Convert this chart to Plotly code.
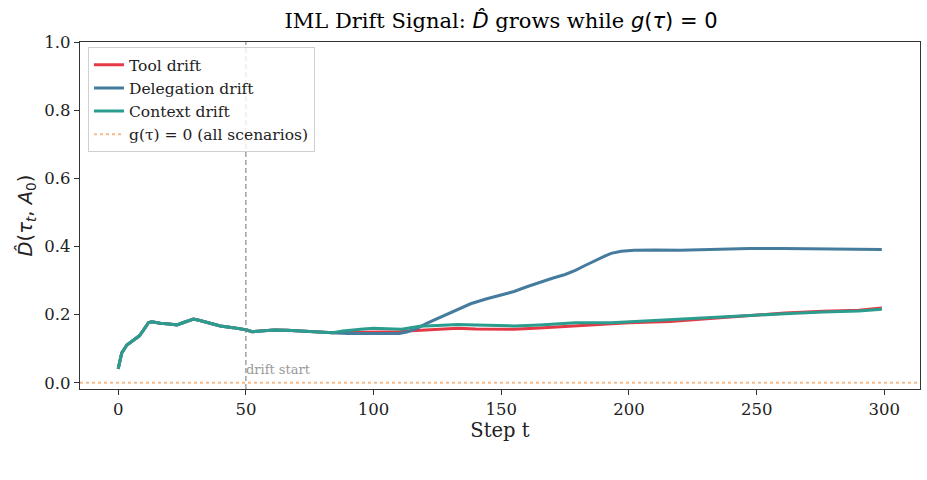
import plotly.graph_objects as go

# ---- data ----
common_t = [0, 0.8, 1.4, 3.4, 5.9, 8.3, 9.9, 11.9, 13.2, 16.5, 20, 23, 25.6, 29.5, 32, 36, 40, 45, 50.4, 52.4, 56, 61, 66, 70, 74, 79, 84]
common_v = [0.041, 0.072, 0.088, 0.111, 0.126, 0.138, 0.155, 0.177, 0.179, 0.175, 0.173, 0.170, 0.177, 0.187, 0.183, 0.175, 0.167, 0.162, 0.155, 0.150, 0.152, 0.155, 0.154, 0.152, 0.150, 0.148, 0.147]

tool_t = [88, 95, 100, 110, 115, 119, 126, 133, 140, 150, 155, 165, 172, 179, 186, 193, 200, 216, 228, 240, 250, 261, 276, 290, 299]
tool_v = [0.148, 0.149, 0.150, 0.150, 0.153, 0.155, 0.157, 0.160, 0.158, 0.157, 0.157, 0.161, 0.164, 0.167, 0.171, 0.174, 0.176, 0.180, 0.187, 0.194, 0.199, 0.205, 0.210, 0.213, 0.220]

deleg_t = [90, 100, 105, 110, 113, 117, 121, 126, 130, 134, 138, 144, 150, 155, 160, 165, 170, 175, 179, 183, 187, 190.5, 193, 197, 202, 210, 220, 230, 247, 260, 276, 290, 299]
deleg_v = [0.145, 0.145, 0.146, 0.145, 0.149, 0.160, 0.175, 0.192, 0.206, 0.219, 0.232, 0.246, 0.258, 0.268, 0.282, 0.295, 0.307, 0.318, 0.330, 0.345, 0.360, 0.372, 0.380, 0.386, 0.389, 0.390, 0.389, 0.391, 0.394, 0.394, 0.393, 0.391, 0.391]

ctx_t = [88, 92, 96, 100, 104, 108, 111, 115, 118, 125, 133, 140, 150, 155, 165, 172, 179, 193, 200, 216, 228, 240, 250, 261, 276, 290, 299]
ctx_v = [0.152, 0.156, 0.158, 0.160, 0.160, 0.158, 0.157, 0.162, 0.166, 0.168, 0.171, 0.170, 0.168, 0.167, 0.170, 0.174, 0.176, 0.176, 0.179, 0.184, 0.190, 0.195, 0.199, 0.203, 0.208, 0.211, 0.216]

drift_start = 50
x_range = [-14.95, 313.95]
y_range = [-0.018, 1.0]
x_ticks = [0, 50, 100, 150, 200, 250, 300]
y_ticks = [0.0, 0.2, 0.4, 0.6, 0.8, 1.0]

series = [
    ("Tool drift", tool_t, tool_v, "#e63946"),
    ("Delegation drift", deleg_t, deleg_v, "#457b9d"),
    ("Context drift", ctx_t, ctx_v, "#2a9d8f"),
]

SERIF = "DejaVu Serif"
MATH = "DejaVu Sans"

fig = go.Figure()
for name, t, v, col in series:
    fig.add_trace(go.Scatter(x=common_t + t, y=common_v + v, mode="lines", name=name,
                             line=dict(color=col, width=3)))

fig.add_trace(go.Scatter(x=x_range, y=[0, 0], mode="lines", name="g(τ) = 0 (all scenarios)",
                         line=dict(color="rgba(244,162,97,0.75)", width=2, dash="dot")))

fig.add_vline(x=drift_start, line=dict(color="#7f7f7f", width=1.2, dash="5px,3px"), opacity=0.9)
fig.add_annotation(x=drift_start, y=0.010, xref="x", yref="y", text="drift start",
                   showarrow=False, xanchor="left", yanchor="bottom", xshift=-2,
                   font=dict(family=SERIF, size=13, color="#999999"))

fig.update_layout(
    width=927, height=480,
    margin=dict(l=80, r=7, t=42, b=91),
    paper_bgcolor="white", plot_bgcolor="white",
    title=dict(
        text=f"IML Drift Signal: <span style='font-family:{MATH}'><i>D̂</i></span> grows while "
             f"<span style='font-family:{MATH}'><i>g</i>(<i>τ</i>) = 0</span>",
        x=0.5405, xanchor="center", y=0.958, yanchor="middle",
        font=dict(family=SERIF, size=21, color="black")),
    legend=dict(x=0.0095, y=0.985, xanchor="left", yanchor="top",
                bgcolor="rgba(255,255,255,0.8)", bordercolor="#d0d0d0", borderwidth=1,
                font=dict(family=SERIF, size=15.5, color="#222")),
    showlegend=True,
)
fig.update_xaxes(range=x_range, tickvals=x_ticks, ticks="outside", ticklen=5, tickcolor="#333",
                 showline=True, linecolor="#333", linewidth=1.2, mirror=True, showgrid=False, zeroline=False,
                 tickfont=dict(family=SERIF, size=16.5, color="#222"),
                 title=dict(text="Step t", font=dict(family=SERIF, size=19.5, color="#222"), standoff=4))
fig.update_yaxes(range=y_range, tickvals=y_ticks, tickformat=".1f", ticks="outside", ticklen=5, tickcolor="#333",
                 showline=True, linecolor="#333", linewidth=1.2, mirror=True, showgrid=False, zeroline=False,
                 tickfont=dict(family=SERIF, size=16.5, color="#222"),
                 title=dict(text=f"<span style='font-family:{MATH}'><i>D̂</i>(<i>τ</i><sub><i>t</i></sub>, <i>A</i><sub>0</sub>)</span>",
                            font=dict(family=MATH, size=19.5, color="#222"), standoff=6))

fig.write_html("out.html")
